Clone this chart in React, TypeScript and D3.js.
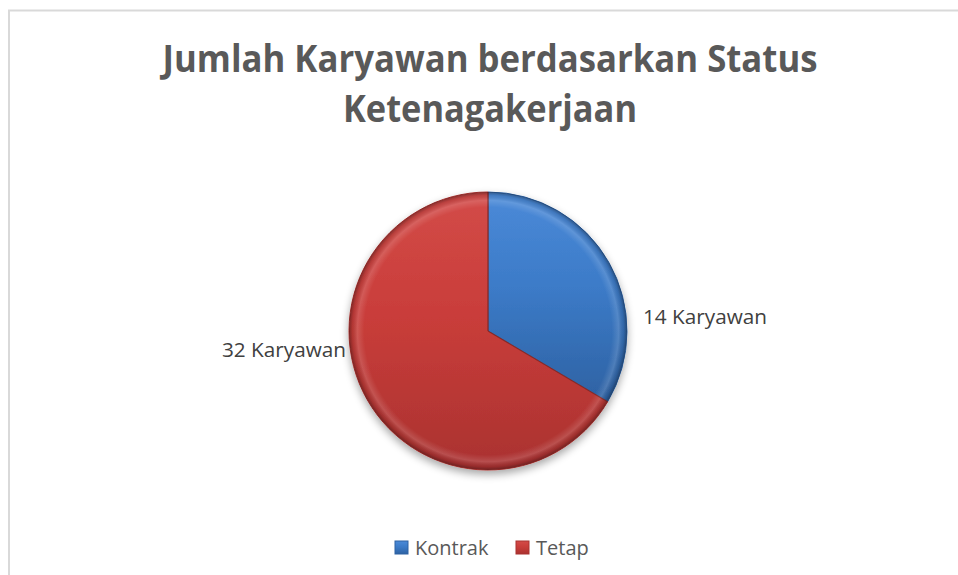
import React, { useEffect, useRef } from 'react'
import * as d3 from 'd3'

// Jumlah karyawan per status (pie Excel gaya bevel)
const categories = ['Kontrak', 'Tetap']
const counts = [14, 32]
// porsi irisan seperti yang tampak di gambar (sudut batas ~120 derajat)
const sliceShares = [33.5, 66.5]
const titleLines = ['Jumlah Karyawan berdasarkan Status', 'Ketenagakerjaan']

const baseColor = ['#3c7bc8', '#c93d3a']
const lightColor = ['#4b8ad8', '#d34b48']
const darkColor = ['#2e62a3', '#aa3230']

const W = 958
const H = 575

const App = () => {
  const ref = useRef<SVGSVGElement>(null)

  useEffect(() => {
    const svg = d3.select(ref.current)
    svg.selectAll('*').remove()

    const cx = 488
    const cy = 331
    const r = 139

    const defs = svg.append('defs')

    const shadow = defs.append('filter').attr('id', 'pieShadow')
      .attr('x', '-20%').attr('y', '-20%').attr('width', '140%').attr('height', '150%')
    shadow.append('feGaussianBlur').attr('in', 'SourceAlpha').attr('stdDeviation', 4)
    shadow.append('feOffset').attr('dx', 0).attr('dy', 4).attr('result', 'b')
    shadow.append('feComponentTransfer').append('feFuncA').attr('type', 'linear').attr('slope', 0.35)
    const merge = shadow.append('feMerge')
    merge.append('feMergeNode')
    merge.append('feMergeNode').attr('in', 'SourceGraphic')

    categories.forEach((c, i) => {
      const g = defs.append('linearGradient').attr('id', `grad${i}`)
        .attr('x1', 0).attr('y1', 0).attr('x2', 0).attr('y2', 1)
      g.append('stop').attr('offset', '0%').attr('stop-color', lightColor[i])
      g.append('stop').attr('offset', '45%').attr('stop-color', baseColor[i])
      g.append('stop').attr('offset', '100%').attr('stop-color', darkColor[i])
    })

    // bevel tepi luar
    const bevel = defs.append('radialGradient').attr('id', 'bevel')
      .attr('cx', '50%').attr('cy', '50%').attr('r', '50%')
    bevel.append('stop').attr('offset', '89%').attr('stop-color', '#fff').attr('stop-opacity', 0)
    bevel.append('stop').attr('offset', '94%').attr('stop-color', '#fff').attr('stop-opacity', 0.14)
    bevel.append('stop').attr('offset', '97.5%').attr('stop-color', '#000').attr('stop-opacity', 0.1)
    bevel.append('stop').attr('offset', '100%').attr('stop-color', '#000').attr('stop-opacity', 0.35)

    // bingkai area chart
    svg.append('rect')
      .attr('x', 9).attr('y', 10.5)
      .attr('width', W + 10).attr('height', H + 10)
      .attr('fill', '#fff').attr('stroke', '#d9d9d9').attr('stroke-width', 2)

    // judul
    const title = svg.append('text')
      .attr('text-anchor', 'middle')
      .attr('font-family', 'Open Sans')
      .attr('font-weight', 700)
      .attr('font-size', 38)
      .attr('fill', '#595959')
    title.append('tspan').attr('x', 490).attr('y', 72)
      .attr('textLength', 655).attr('lengthAdjust', 'spacingAndGlyphs').text(titleLines[0])
    title.append('tspan').attr('x', 490).attr('y', 122)
      .attr('textLength', 294).attr('lengthAdjust', 'spacingAndGlyphs').text(titleLines[1])

    const pie = d3.pie<number>().sort(null).value(d => d)
    const arcs = pie(sliceShares)
    const arc = d3.arc<d3.PieArcDatum<number>>().innerRadius(0).outerRadius(r)

    const g = svg.append('g').attr('transform', `translate(${cx},${cy})`)
    const slices = g.append('g').attr('filter', 'url(#pieShadow)')
    slices.selectAll('path')
      .data(arcs)
      .join('path')
      .attr('d', arc)
      .attr('fill', (d, i) => `url(#grad${i})`)
      .attr('stroke', (d, i) => darkColor[i])
      .attr('stroke-width', 1)
      .attr('stroke-linejoin', 'round')

    g.append('circle').attr('r', r).attr('fill', 'url(#bevel)').attr('pointer-events', 'none')

    // garis batas irisan (sedikit gelap)
    g.selectAll('path.edge')
      .data(arcs)
      .join('path')
      .attr('class', 'edge')
      .attr('d', d => {
        const a = d.startAngle
        return `M0,0L${r * Math.sin(a)},${-r * Math.cos(a)}`
      })
      .attr('stroke', '#5a2020')
      .attr('stroke-opacity', 0.45)
      .attr('stroke-width', 1.2)

    // label data
    const labelOffsetY = [-7, 26]
    svg.append('g')
      .attr('font-family', 'Open Sans')
      .attr('font-size', 20)
      .attr('fill', '#404040')
      .selectAll('text')
      .data(arcs)
      .join('text')
      .attr('text-anchor', d => (arc.centroid(d)[0] > 0 ? 'start' : 'end'))
      .attr('x', d => cx + (arc.centroid(d)[0] > 0 ? r + 16 : -r - 3))
      .attr('y', (d, i) => cy + labelOffsetY[i])
      .attr('textLength', 124)
      .attr('lengthAdjust', 'spacingAndGlyphs')
      .text((d, i) => `${counts[i]} Karyawan`)

    // legenda
    const legend = svg.append('g').attr('transform', 'translate(395,541)')
    const legendX = d3.scalePoint<string>().domain(categories).range([0, 121])
    const item = legend.selectAll('g')
      .data(categories)
      .join('g')
      .attr('transform', d => `translate(${legendX(d)},0)`)
    item.append('rect')
      .attr('width', 13).attr('height', 13)
      .attr('fill', (d, i) => `url(#grad${i})`)
      .attr('stroke', (d, i) => darkColor[i])
    item.append('text')
      .attr('x', 20).attr('y', 14)
      .attr('font-family', 'Open Sans')
      .attr('font-size', 20)
      .attr('fill', '#595959')
      .text(d => d)
  }, [])

  return (
    <svg ref={ref} width={W} height={H}
      style={{ position: 'absolute', left: 0, top: 0, background: '#fff' }} />
  )
}

export default App
